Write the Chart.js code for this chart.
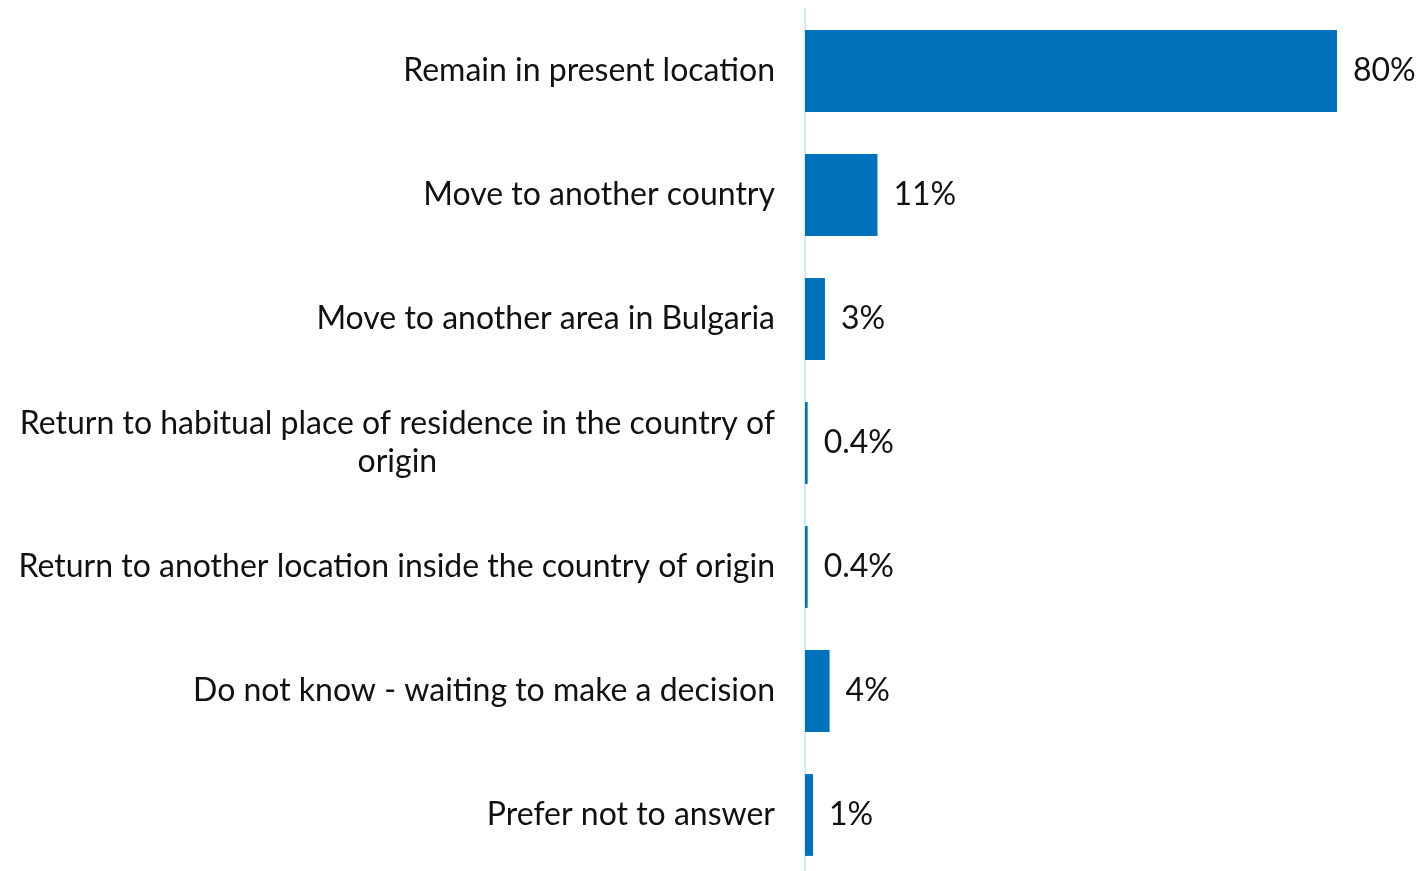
<!DOCTYPE html>
<html>
<head>
<meta charset="utf-8">
<script src="https://cdn.jsdelivr.net/npm/chart.js@4/dist/chart.umd.min.js"></script>
<style>
  html, body { margin: 0; padding: 0; overflow: hidden; background: #fff; }
  #wrap { width: 1422px; height: 877px; position: relative; }
</style>
</head>
<body>
<div id="wrap"><canvas id="c"></canvas></div>
<script>
const categories = [
  "Remain in present location",
  "Move to another country",
  "Move to another area in Bulgaria",
  ["Return to habitual place of residence in the country of", "origin"],
  "Return to another location inside the country of origin",
  "Do not know - waiting to make a decision",
  "Prefer not to answer"
];
const values = [80, 10.9, 3.0, 0.4, 0.4, 3.7, 1.2];
const valueLabels = ["80%", "11%", "3%", "0.4%", "0.4%", "4%", "1%"];

const FONT = "Lato, 'Open Sans', sans-serif";
const TEXT = "#111111";
const LABEL_PAD = 30;
const LINE_H = 1.19;

// value labels at bar ends + centered multi-line category labels
const labelPlugin = {
  id: 'labels',
  afterDatasetsDraw(chart) {
    const ctx = chart.ctx;
    const meta = chart.getDatasetMeta(0);
    ctx.save();
    ctx.font = "32px " + FONT;
    ctx.fillStyle = TEXT;
    ctx.textAlign = "left";
    ctx.textBaseline = "middle";
    meta.data.forEach((bar, i) => {
      ctx.fillText(valueLabels[i], bar.x + 16, bar.y);
    });
    // multi-line category labels: block right-aligned, lines centered
    const yScale = chart.scales.y;
    const right = yScale.right - LABEL_PAD;
    categories.forEach((lab, i) => {
      if (!Array.isArray(lab)) return;
      const widths = lab.map(t => ctx.measureText(t).width);
      const maxW = Math.max(...widths);
      const cx = right - maxW / 2;
      const cy = yScale.getPixelForTick(i);
      const lh = 32 * LINE_H;
      ctx.textAlign = "center";
      lab.forEach((t, k) => {
        ctx.fillText(t, cx, cy + (k - (lab.length - 1) / 2) * lh);
      });
    });
    ctx.restore();
  }
};

new Chart(document.getElementById('c'), {
  type: 'bar',
  data: {
    labels: categories,
    datasets: [{
      data: values,
      backgroundColor: '#0072bc',
      borderWidth: 0,
      barPercentage: 0.66,
      categoryPercentage: 1
    }]
  },
  options: {
    indexAxis: 'y',
    responsive: true,
    maintainAspectRatio: false,
    animation: false,
    layout: { padding: { top: 9, right: 85, bottom: 0, left: 0 } },
    plugins: { legend: { display: false }, tooltip: { enabled: false } },
    scales: {
      x: { display: false, min: 0, max: 80 },
      y: {
        afterFit(scale) {
          scale.width = 805;
          scale.paddingTop = 0;
          scale.paddingBottom = 0;
        },
        grid: { display: false, drawTicks: false },
        border: { display: true, color: '#d2e8fb', width: 2 },
        ticks: {
          padding: LABEL_PAD,
          autoSkip: false,
          color: (c) => Array.isArray(categories[c.index]) ? 'rgba(0,0,0,0)' : TEXT,
          font: { family: FONT, size: 32, lineHeight: LINE_H }
        }
      }
    }
  },
  plugins: [labelPlugin]
});
</script>
</body>
</html>
